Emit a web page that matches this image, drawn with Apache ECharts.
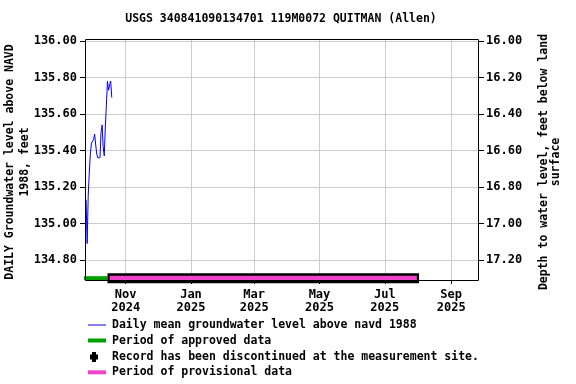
<!DOCTYPE html>
<html><head><meta charset="utf-8">
<script src="https://cdn.jsdelivr.net/npm/echarts@6/dist/echarts.min.js"></script>
<style>html,body{margin:0;padding:0;background:#fff}#c{width:576px;height:384px}</style>
</head><body><div id="c"></div>
<script>
const titleText = 'USGS 340841090134701 119M0072 QUITMAN (Allen)';
const dates = ['2024-09-25','2024-09-26','2024-09-27','2024-09-28','2024-09-29','2024-09-30','2024-10-01','2024-10-02','2024-10-03','2024-10-04','2024-10-05','2024-10-06','2024-10-07','2024-10-08','2024-10-09','2024-10-10','2024-10-11','2024-10-12','2024-10-13','2024-10-14','2024-10-15','2024-10-16','2024-10-17','2024-10-18','2024-10-19'];
const levels = [135.13,134.89,135.15,135.28,135.38,135.44,135.43,135.46,135.49,135.43,135.38,135.36,135.35,135.36,135.50,135.54,135.42,135.37,135.53,135.65,135.78,135.73,135.76,135.78,135.69];
const approvedPeriod = ['2024-09-23','2024-10-15'];
const provisionalPeriod = ['2024-10-17','2025-07-31'];
const provisionalOutline = ['2024-10-15','2025-08-02'];
const xTickDates = ['2024-11-01','2025-01-01','2025-03-01','2025-05-01','2025-07-01','2025-09-01'];
const monthNames = ['Jan','Feb','Mar','Apr','May','Jun','Jul','Aug','Sep','Oct','Nov','Dec'];
const levelTicks = [134.8,135.0,135.2,135.4,135.6,135.8,136.0];
const depthTicks = [16.0,16.2,16.4,16.6,16.8,17.0,17.2];
const landSurface = 152.0;
const yMin = 134.69, yMax = 136.011;
const xRange = ['2024-09-24','2025-09-27'];
const barLevel = 134.70;
const legendItems = ['Daily mean groundwater level above navd 1988','Period of approved data','Record has been discontinued at the measurement site.','Period of provisional data'];

function t(s){const p=s.split('-').map(Number);return new Date(p[0],p[1]-1,p[2]).getTime();}
const FONT = 'DejaVu Sans Mono';
const chart = echarts.init(document.getElementById('c'), null, {renderer:'canvas'});
const lab = {fontFamily:FONT,fontWeight:'bold',fontSize:12,color:'#000'};
function txt(x,y,s,extra){return Object.assign({type:'text',x:x,y:y,z:20,style:{text:s,fontFamily:FONT,fontWeight:'bold',fontSize:11.5,fill:'#000',align:'left',verticalAlign:'middle'}},extra||{});}
const g = [
  {type:'rect',z:30,shape:{x:85.5,y:39.5,width:393,height:241},style:{fill:'none',stroke:'#000',lineWidth:1}},
  txt(281,19.5,titleText),
  txt(10,162,'DAILY Groundwater level above NAVD',{rotation:Math.PI/2}),
  txt(25,162,'1988, feet',{rotation:Math.PI/2}),
  txt(544,162,'Depth to water level, feet below land',{rotation:Math.PI/2}),
  txt(556,162,'surface',{rotation:Math.PI/2}),
  {type:'line',shape:{x1:88,y1:325,x2:106,y2:325},style:{stroke:'#0000ff',lineWidth:1}},
  {type:'line',shape:{x1:88,y1:340.5,x2:106,y2:340.5},style:{stroke:'#00a000',lineWidth:4}},
  {type:'rect',shape:{x:92,y:352,width:4,height:10},style:{fill:'#000'}},
  {type:'rect',shape:{x:90,y:354.5,width:8,height:5},style:{fill:'#000'}},
  {type:'line',shape:{x1:88,y1:372.3,x2:106,y2:372.3},style:{stroke:'#ee44cc',lineWidth:4}},
  txt(112,325,legendItems[0]),
  txt(112,341,legendItems[1]),
  txt(112,357,legendItems[2]),
  txt(112,372.5,legendItems[3])
];
g[1].style.align='center';
for (let i=2;i<6;i++) g[i].style.align='center';
chart.setOption({
  animation:false,
  backgroundColor:'#fff',
  grid:{left:85,right:97,top:39,bottom:104,show:false},
  xAxis:{type:'value',min:t(xRange[0]),max:t(xRange[1]),
    axisLine:{show:false},
    axisTick:{show:true,length:4,lineStyle:{color:'#000'},customValues:xTickDates.map(t)},
    splitLine:{show:true,lineStyle:{color:'#cccccc',width:1}},
    axisLabel:Object.assign({},lab,{margin:8,lineHeight:13,customValues:xTickDates.map(t),
      formatter:function(v){const d=new Date(v);return monthNames[d.getMonth()]+'\n'+d.getFullYear();}})
  },
  yAxis:[
    {type:'value',min:yMin,max:yMax,position:'left',
      axisLine:{show:false},
      axisTick:{show:true,length:5,lineStyle:{color:'#000'},customValues:levelTicks},
      splitLine:{show:true,lineStyle:{color:'#cccccc',width:1}},
      axisLabel:Object.assign({},lab,{margin:8,customValues:levelTicks,formatter:v=>v.toFixed(2)})
    },
    {type:'value',min:landSurface-yMax,max:landSurface-yMin,inverse:true,position:'right',
      axisLine:{show:false},
      axisTick:{show:true,length:5,lineStyle:{color:'#000'},customValues:depthTicks},
      splitLine:{show:false},
      axisLabel:Object.assign({},lab,{margin:7,customValues:depthTicks,formatter:v=>v.toFixed(2)})
    }
  ],
  series:[
    {type:'line',name:legendItems[1],data:approvedPeriod.map(d=>[t(d),barLevel]),symbol:'none',clip:false,
      lineStyle:{color:'#00a000',width:4,cap:'butt'},z:3},
    {type:'line',name:'outline',data:provisionalOutline.map(d=>[t(d),barLevel]),symbol:'none',clip:false,
      lineStyle:{color:'#000',width:10,cap:'butt'},z:4},
    {type:'line',name:legendItems[3],data:provisionalPeriod.map(d=>[t(d),barLevel]),symbol:'none',clip:false,
      lineStyle:{color:'#ee44cc',width:5,cap:'butt'},z:5},
    {type:'line',name:legendItems[0],data:dates.map((d,i)=>[t(d),levels[i]]),symbol:'none',
      lineStyle:{color:'#0000ff',width:1},z:6}
  ],
  graphic:g
});
</script></body></html>
